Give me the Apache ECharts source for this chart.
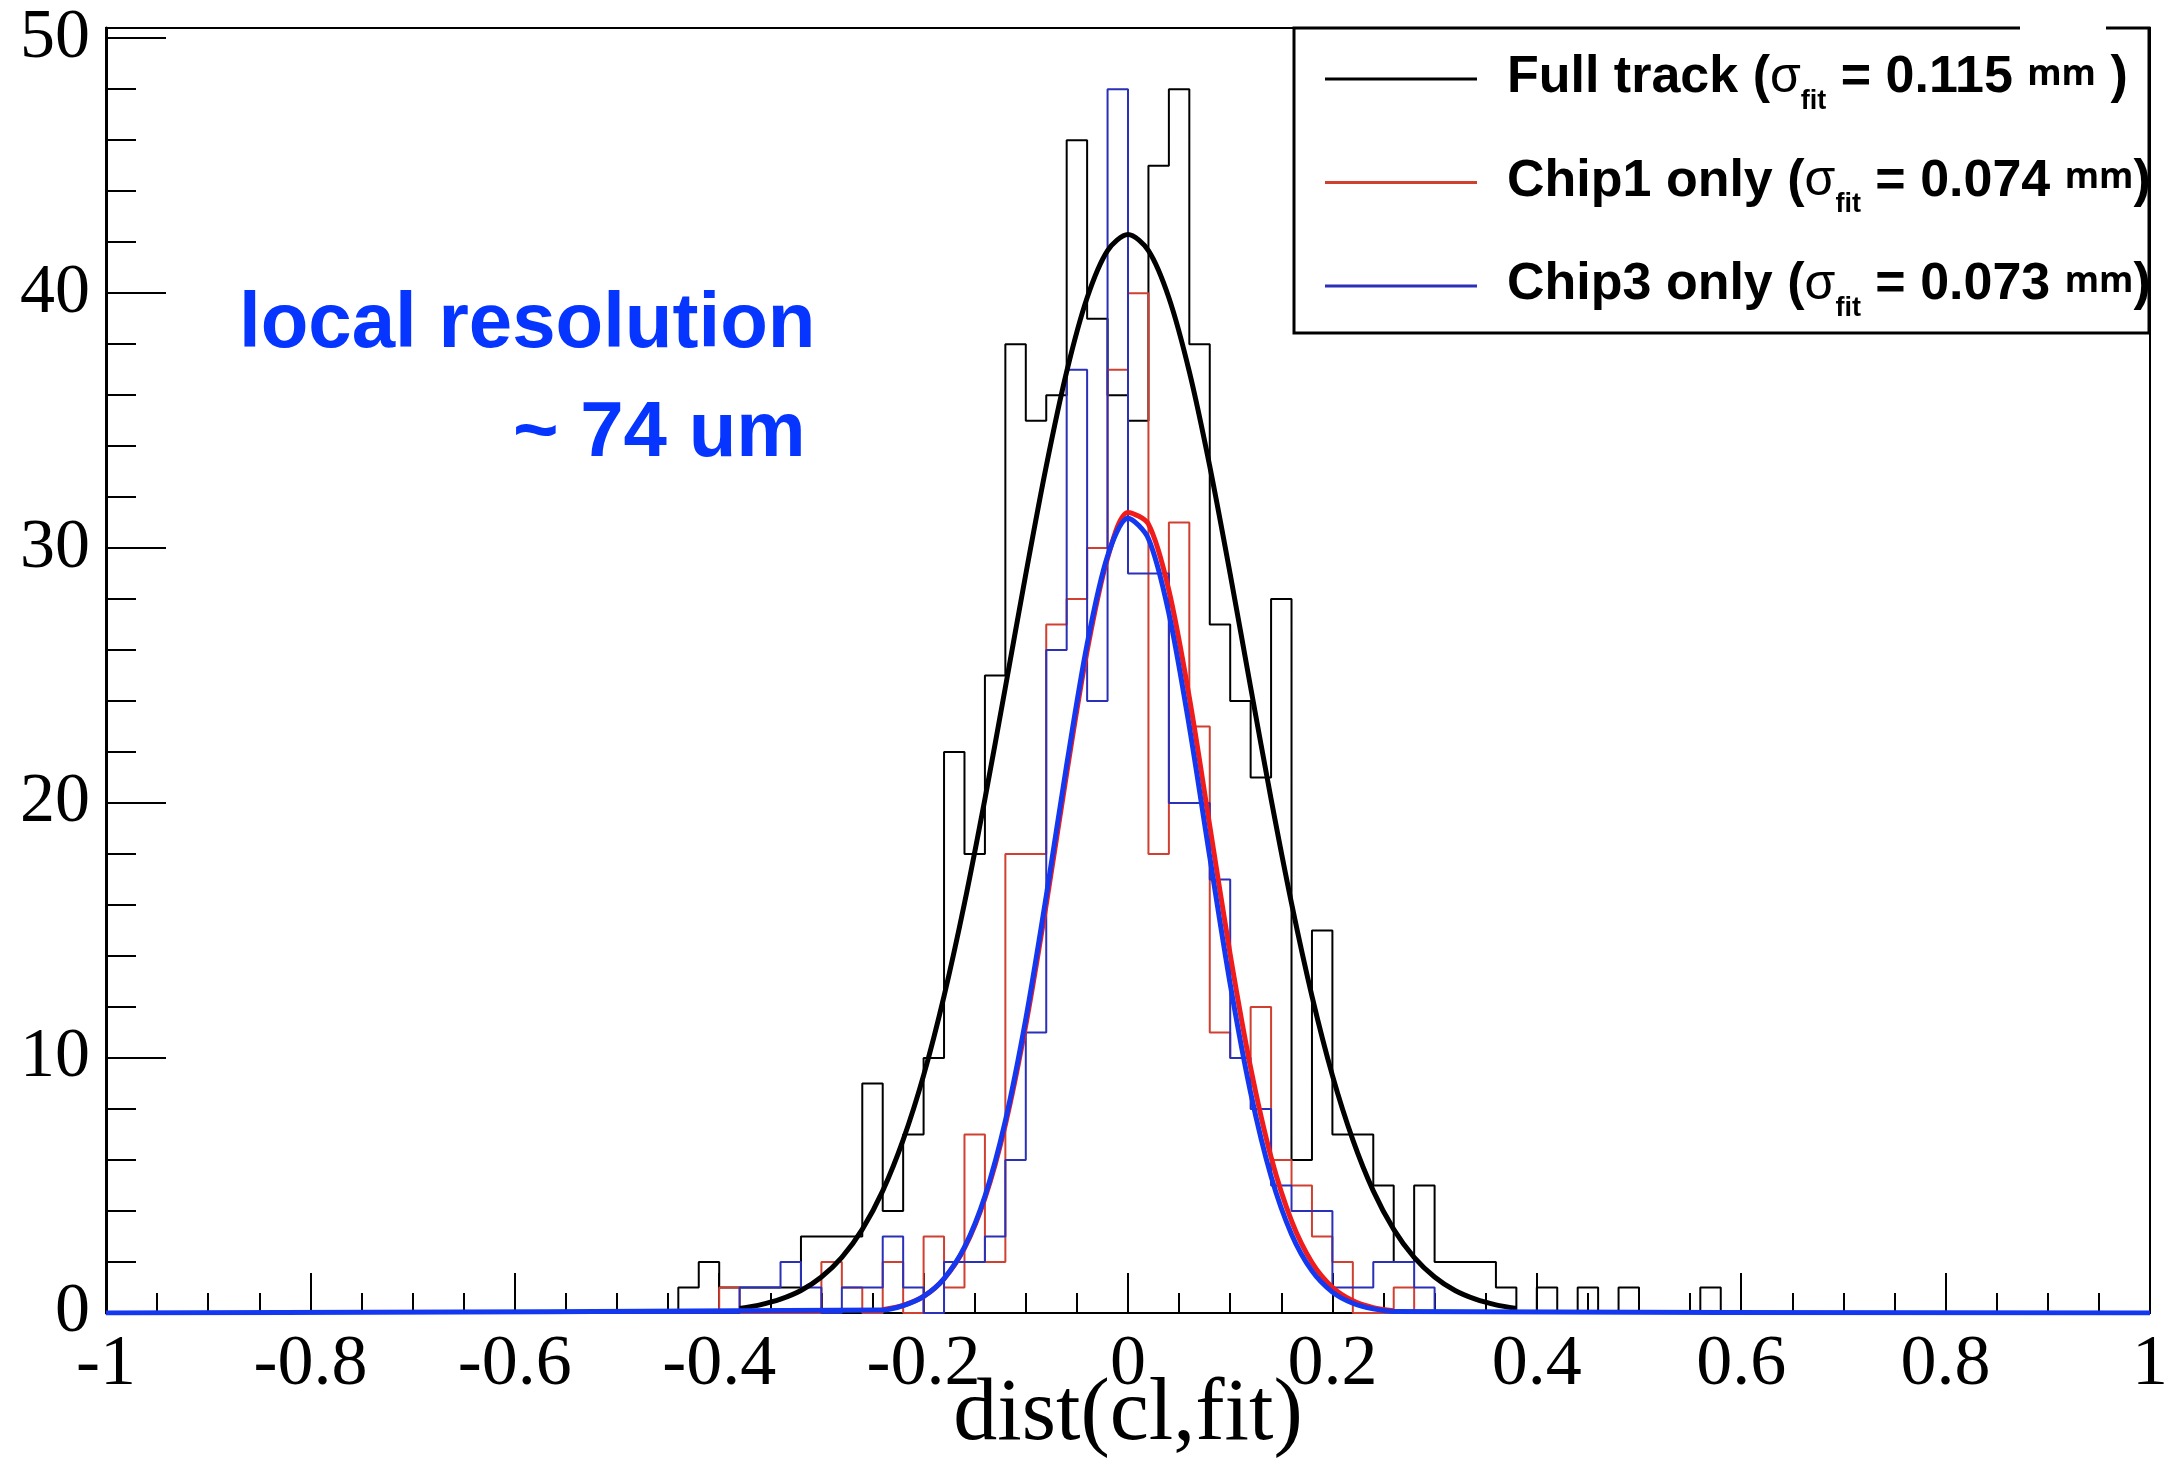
<!DOCTYPE html>
<html>
<head>
<meta charset="utf-8">
<script src="https://cdn.jsdelivr.net/npm/echarts@6/dist/echarts.min.js"></script>
<style>
html,body{margin:0;padding:0;background:#fff;}
#chart{width:2176px;height:1461px;}
</style>
</head>
<body>
<div id="chart"></div>
<script>
// ---- data ----
const binWidth = 0.02;
const firstBinLow = -0.44;            // lower edge of first listed bin
// counts per bin, bins from -0.44 to 0.58 (51 bins)
const fullTrackCounts = [1,2,1,1,1,1,3,3,3,9, 4,7,10,22,18,25,38,35,36,46, 39,36,35,45,48,38,27,24,21,28, 6,15,7,7,5,2,5,2,2,2, 1,0,1,0,1,0,1,0,0,0, 1];
const chip1Counts     = [0,0,1,0,0,0,0,2,1,0, 2,0,3,1,7,2,18,18,27,28, 30,37,40,18,31,23,11,10,12,6, 5,3,2,0,0,1,0,0,0,0, 0,0,0,0,0,0,0,0,0,0, 0];
const chip3Counts     = [0,0,0,1,1,2,1,0,1,1, 3,1,0,2,2,3,6,11,26,37, 24,48,29,29,20,20,17,10,8,5, 4,4,1,1,2,2,1,0,0,0, 0,0,0,0,0,0,0,0,0,0, 0];

const fitStep = 0.02;
const blackFitStart = -0.38;
const blackFitY = [0.18,0.32,0.54,0.88,1.41,2.18,3.28,4.79,6.79,9.32,12.43,16.07,20.16,24.54,28.98,33.21,36.92,39.82,41.67,42.3,41.67,39.82,36.92,33.21,28.98,24.54,20.16,16.07,12.43,9.32,6.79,4.79,3.28,2.18,1.41,0.88,0.54,0.32,0.18];
const redFitStart = -0.24;
const redFitY = [0.13,0.30,0.65,1.34,2.54,4.50,7.39,11.29,16.03,21.17,25.97,29.61,31.40,30.94,28.34,24.14,19.11,14.06,9.62,6.11,3.61,1.98,1.01,0.48,0.21,0.09];
const blueFitStart = -0.24;
const blueFitY = [0.12,0.29,0.65,1.35,2.58,4.58,7.54,11.53,16.35,21.50,26.23,29.69,31.17,30.37,27.44,23.00,17.89,12.90,8.64,5.36,3.09,1.65,0.82,0.38,0.16,0.06];

const legendNames = ['Full track', 'Chip1 only', 'Chip3 only'];
const sigmaFit = ['0.115', '0.074', '0.073'];
const annotation = ['local resolution', '~ 74 um'];
const xTitle = 'dist(cl,fit)';

// ---- build library data ----
function histData(counts) {
  const pts = [[-1, 0]];
  counts.forEach((c, i) => pts.push([+(firstBinLow + i * binWidth).toFixed(2), c]));
  pts.push([+(firstBinLow + counts.length * binWidth).toFixed(2), 0]);
  pts.push([1, 0]);
  return pts;
}
function curveData(start, ys) {
  return ys.map((y, i) => [+(start + i * fitStep).toFixed(2), y]);
}
const blueCurve = [[-1, 0]].concat(curveData(blueFitStart, blueFitY)).concat([[1, 0]]);

const colBlack = '#000000';
const colRedH = '#d04030';
const colBlueH = '#2a30b8';
const colRedF = '#f01c1c';
const colBlueF = '#1438f0';

const chart = echarts.init(document.getElementById('chart'), null, {renderer: 'canvas'});

const serif = 'Liberation Serif';
const sans = 'Liberation Sans';

chart.setOption({
  animation: false,
  backgroundColor: '#ffffff',
  grid: {
    left: 106, right: 26, top: 28, bottom: 148,
    show: true, borderColor: '#000', borderWidth: 2,
    containLabel: false, outerBoundsMode: 'none'
  },
  xAxis: [{
    type: 'value', min: -1, max: 1, interval: 0.2, position: 'bottom',
    axisLine: {show: true, onZero: false, lineStyle: {color: '#000', width: 2}},
    axisTick: {show: true, inside: true, length: 40, lineStyle: {color: '#000', width: 2}},
    minorTick: {show: true, splitNumber: 4, length: 20, lineStyle: {color: '#000', width: 2}},
    axisLabel: {show: true, margin: 16, color: '#000', fontFamily: serif, fontSize: 72},
    splitLine: {show: false},
    name: xTitle, nameLocation: 'middle', nameGap: 59, nameMoveOverlap: false,
    nameTextStyle: {fontFamily: serif, fontSize: 88, color: '#000'}
  }],
  yAxis: [{
    type: 'value', min: 0, max: 50.4, interval: 10, position: 'left',
    axisLine: {show: true, onZero: false, lineStyle: {color: '#000', width: 3}},
    axisTick: {show: true, inside: true, length: 60, lineStyle: {color: '#000', width: 2}},
    axisLabel: {show: true, margin: 16, color: '#000', fontFamily: serif, fontSize: 70,
      formatter: v => (Math.abs(v % 10) < 1e-9 ? String(v) : '')},
    splitLine: {show: false}
  }, {
    type: 'value', min: 0, max: 50.4, interval: 2, position: 'left',
    axisLine: {show: false, onZero: false},
    axisTick: {show: true, inside: true, length: 30, lineStyle: {color: '#000', width: 2}},
    axisLabel: {show: false},
    splitLine: {show: false}
  }],
  legend: {
    data: legendNames,
    orient: 'vertical',
    left: 1325, top: 43,
    padding: 0,
    itemWidth: 152, itemHeight: 3, itemGap: 31.5,
    icon: 'rect',
    selectedMode: false,
    z: 10,
    formatter: function (name) {
      const i = legendNames.indexOf(name);
      const tail = i === 0 ? ' )' : ')';
      return '{f|' + name + ' (}{g|σ}{s|fit}{t| = ' + sigmaFit[i] + ' }{m|mm}{t|' + tail + '}';
    },
    textStyle: {
      rich: {
        f: {fontFamily: sans, fontWeight: 'bold', fontSize: 52, lineHeight: 64, color: '#000', padding: [0, 0, 2, 25]},
        t: {fontFamily: sans, fontWeight: 'bold', fontSize: 52, lineHeight: 64, color: '#000', padding: [0, 0, 2, 0]},
        g: {fontFamily: sans, fontWeight: 'normal', fontSize: 50, lineHeight: 64, color: '#000', padding: [0, 0, 2, 0]},
        s: {fontFamily: sans, fontWeight: 'bold', fontSize: 27, lineHeight: 27, color: '#000', padding: [45, 0, 0, 0]},
        m: {fontFamily: 'Open Sans', fontWeight: 'bold', fontSize: 35, lineHeight: 50, color: '#000', padding: [0, 0, 8, 0]}
      }
    }
  },
  graphic: [
    {type: 'rect', z: 5, shape: {x: 1294, y: 28, width: 855, height: 305},
     style: {fill: '#fff', stroke: '#000', lineWidth: 3}},
    {type: 'rect', z: 6, shape: {x: 2020, y: 20, width: 86, height: 14},
     style: {fill: '#fff', stroke: null}},
    {type: 'text', z: 7, x: 239, y: 325,
     style: {text: annotation[0], fontFamily: sans, fontWeight: 'bold', fontSize: 78, fill: '#0535ff', align: 'left', verticalAlign: 'middle'}},
    {type: 'text', z: 7, x: 513, y: 434,
     style: {text: annotation[1], fontFamily: sans, fontWeight: 'bold', fontSize: 78, fill: '#0535ff', align: 'left', verticalAlign: 'middle'}}
  ],
  series: [
    {name: legendNames[0], type: 'line', step: 'end', data: histData(fullTrackCounts),
     showSymbol: false, symbol: 'none', color: colBlack, lineStyle: {color: colBlack, width: 2}, z: 2},
    {name: legendNames[1], type: 'line', step: 'end', data: histData(chip1Counts),
     showSymbol: false, symbol: 'none', color: colRedH, lineStyle: {color: colRedH, width: 2}, z: 2},
    {name: legendNames[2], type: 'line', step: 'end', data: histData(chip3Counts),
     showSymbol: false, symbol: 'none', color: colBlueH, lineStyle: {color: colBlueH, width: 2}, z: 2},
    {name: 'fit full', type: 'line', smooth: 0.3, data: curveData(blackFitStart, blackFitY),
     showSymbol: false, symbol: 'none', color: colBlack, lineStyle: {color: colBlack, width: 5, join: 'round'}, z: 3},
    {name: 'fit chip1', type: 'line', smooth: 0.3, data: curveData(redFitStart, redFitY),
     showSymbol: false, symbol: 'none', color: colRedF, lineStyle: {color: colRedF, width: 5, join: 'round'}, z: 3},
    {name: 'fit chip3', type: 'line', smooth: 0.3, data: blueCurve,
     showSymbol: false, symbol: 'none', color: colBlueF, lineStyle: {color: colBlueF, width: 5, join: 'round'}, z: 3}
  ]
});
</script>
</body>
</html>
